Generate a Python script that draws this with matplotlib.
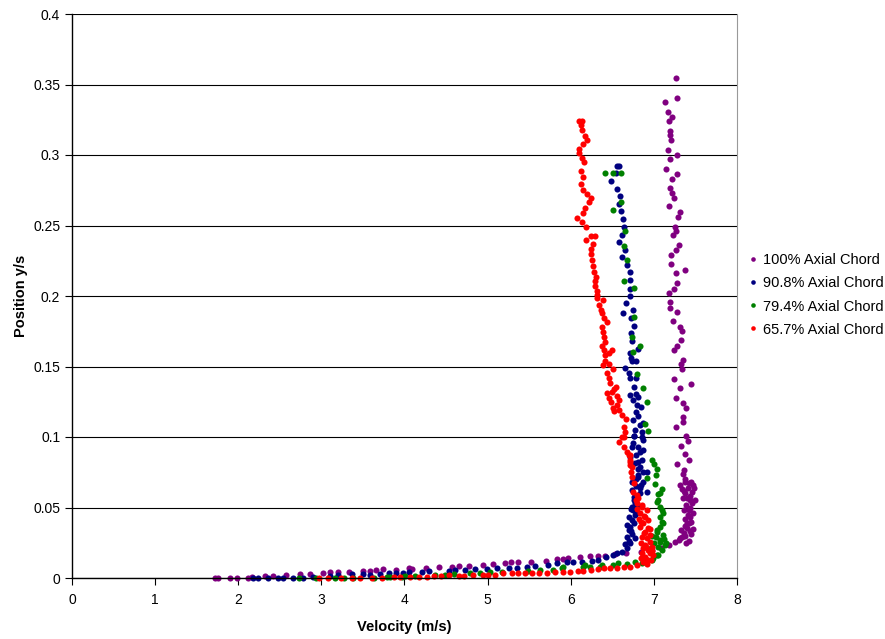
import matplotlib.pyplot as plt

plt.rcParams['font.family'] = ['Liberation Sans', 'DejaVu Sans']

series_labels = ["100% Axial Chord", "90.8% Axial Chord", "79.4% Axial Chord", "65.7% Axial Chord"]
series_colors = ['#800080', '#000080', '#008000', '#FF0000']

# 100% axial chord
p100_vel = [1.72, 1.76, 1.90, 1.99, 2.12, 2.17, 2.32, 2.42, 2.58, 2.74, 2.86, 3.02, 3.10, 3.20, 3.33, 3.50, 3.58, 3.66, 3.74, 3.90,
            4.06, 4.09, 4.26, 4.42, 4.57, 4.65, 4.78, 4.95, 5.07, 5.21, 5.28, 5.36, 5.52, 5.70, 5.83, 5.91, 5.97, 6.11, 6.23, 6.33,
            6.41, 6.53, 6.67, 6.84, 6.98, 7.08, 7.18, 7.26, 7.32,
            7.36, 7.40, 7.42, 7.44, 7.42, 7.46, 7.40, 7.48, 7.32, 7.42, 7.30, 7.34, 7.38, 7.45, 7.33, 7.47, 7.37, 7.45, 7.38, 7.41,
            7.47, 7.36, 7.44, 7.39, 7.49, 7.35, 7.44, 7.38, 7.46, 7.34, 7.41, 7.47, 7.37, 7.45, 7.42, 7.39, 7.43, 7.40, 7.43, 7.36,
            7.38, 7.353, 7.365, 7.284, 7.421, 7.38, 7.325, 7.405, 7.392, 7.272, 7.353, 7.353, 7.392, 7.353, 7.272, 7.313, 7.445,
            7.244, 7.341, 7.325, 7.353, 7.244, 7.284, 7.325, 7.341, 7.313, 7.232, 7.284, 7.192, 7.192, 7.18, 7.244, 7.284, 7.272,
            7.38, 7.205, 7.205, 7.272, 7.3, 7.232, 7.268, 7.26, 7.289, 7.316, 7.18, 7.244, 7.22, 7.192, 7.22, 7.284, 7.148, 7.192,
            7.284, 7.164, 7.205, 7.188, 7.192, 7.176, 7.22, 7.164, 7.136, 7.284, 7.265]
p100_pos = [0.0, 0.0, 0.0, 0.0, 0.0003, 0.001, 0.0017, 0.0017, 0.0024, 0.0026, 0.0026, 0.0033, 0.004, 0.004, 0.004, 0.0052, 0.0047, 0.0057, 0.0062, 0.0058,
            0.0069, 0.0064, 0.0073, 0.008, 0.008, 0.0087, 0.0087, 0.0094, 0.0101, 0.0106, 0.0111, 0.0111, 0.0116, 0.0118, 0.0133, 0.0135, 0.0142, 0.0147, 0.0156, 0.0158,
            0.0156, 0.0168, 0.0175, 0.0187, 0.0199, 0.021, 0.0234, 0.0257, 0.0281,
            0.0317, 0.0352, 0.0388, 0.0435, 0.0482, 0.053, 0.0565, 0.0636, 0.066, 0.0672, 0.027, 0.029, 0.030, 0.031, 0.034, 0.035, 0.037, 0.040, 0.042, 0.045,
            0.046, 0.048, 0.050, 0.052, 0.055, 0.057, 0.058, 0.060, 0.061, 0.063, 0.064, 0.066, 0.068, 0.068, 0.026, 0.025, 0.033, 0.039, 0.055, 0.062,
            0.0704, 0.0735, 0.0766, 0.0806, 0.0837, 0.0877, 0.0939, 0.0972, 0.1009, 0.1073, 0.1104, 0.1144, 0.1206, 0.1239, 0.1279, 0.1348, 0.1374,
            0.1411, 0.1482, 0.1516, 0.1546, 0.1617, 0.1648, 0.1688, 0.1752, 0.1782, 0.182, 0.1884, 0.1917, 0.1955, 0.2019, 0.205, 0.209, 0.2161,
            0.2184, 0.2225, 0.2293, 0.2324, 0.236, 0.243, 0.2459, 0.2492, 0.2563, 0.2596, 0.2636, 0.2697, 0.2728, 0.2768, 0.2832, 0.2863, 0.2901, 0.2972,
            0.2998, 0.3035, 0.3106, 0.314, 0.317, 0.3241, 0.3272, 0.3305, 0.3376, 0.3406, 0.3544]

# 90.8% axial chord
p908_vel = [2.18, 2.24, 2.36, 2.48, 2.54, 2.66, 2.78, 2.90, 3.10, 3.20, 3.37, 3.50, 3.58, 3.71, 3.81, 3.90, 3.98, 4.05, 4.21, 4.29,
            4.53, 4.61, 4.73, 4.85, 4.99, 5.11, 5.26, 5.35, 5.47, 5.57, 5.73, 5.83, 5.95, 6.03, 6.13, 6.25, 6.33, 6.43, 6.51, 6.555,
            6.615, 6.65,
            6.675, 6.715, 6.675, 6.775, 6.695, 6.715, 6.675, 6.735, 6.775, 6.75, 6.735, 6.775, 6.755, 6.80, 6.735, 6.835, 6.915, 6.875,
            6.815, 6.805, 6.875, 6.915, 6.835, 6.775, 6.815, 6.855, 6.715, 6.79, 6.835, 6.875, 6.735, 6.815, 6.75, 6.87, 6.765, 6.855,
            6.755, 6.855, 6.775, 6.835, 6.87, 6.75,
            6.70, 6.74, 6.72, 6.76, 6.70, 6.79, 6.72, 6.80, 6.76, 6.83, 6.78, 6.85, 6.79, 6.74, 6.81,
            6.815, 6.79, 6.84, 6.80, 6.75, 6.815, 6.79, 6.715, 6.76, 6.79, 6.715, 6.695, 6.655, 6.78, 6.735, 6.73, 6.715, 6.815, 6.735,
            6.72, 6.76, 6.73, 6.63, 6.75, 6.67, 6.71, 6.71, 6.715, 6.715, 6.68, 6.615, 6.65, 6.575, 6.615, 6.64, 6.63, 6.61, 6.58,
            6.59, 6.56, 6.48, 6.546, 6.555, 6.575]
p908_pos = [0.0, 0.0, 0.0, 0.0, 0.0, 0.0, 0.0002, 0.0005, 0.0017, 0.0021, 0.0026, 0.0026, 0.0021, 0.0026, 0.0033, 0.0033, 0.0038, 0.0045, 0.0045, 0.005,
            0.005, 0.0057, 0.0057, 0.0062, 0.0062, 0.0069, 0.0073, 0.0073, 0.008, 0.0087, 0.0092, 0.0104, 0.0111, 0.0116, 0.0116, 0.0123, 0.0128, 0.0147, 0.0163, 0.0175,
            0.0187, 0.024,
            0.021, 0.0246, 0.0293, 0.0281, 0.034, 0.0364, 0.0376, 0.0411, 0.0447, 0.0482, 0.0506, 0.053, 0.0577, 0.0577, 0.0624, 0.0636, 0.0612, 0.0683,
            0.0718, 0.073, 0.0754, 0.0754, 0.079, 0.0813, 0.0825, 0.0837, 0.086, 0.0872, 0.0896, 0.0908, 0.0931, 0.0931, 0.0955, 0.0979, 0.1009, 0.1002,
            0.101, 0.1038, 0.105, 0.1085, 0.1097, 0.1121,
            0.026, 0.031, 0.033, 0.039, 0.043, 0.046, 0.049, 0.051, 0.055, 0.060, 0.065, 0.066, 0.070, 0.068, 0.077,
            0.1149, 0.118, 0.1211, 0.1227, 0.1262, 0.1286, 0.1305, 0.1298, 0.1357, 0.1416, 0.1421, 0.1452, 0.1487, 0.1541, 0.1539, 0.156, 0.1594, 0.1624, 0.1679,
            0.1735, 0.1789, 0.1846, 0.1877, 0.19, 0.1948, 0.2, 0.2052, 0.2113, 0.2168, 0.2222, 0.2279, 0.2326, 0.2381, 0.2435, 0.2492, 0.2548, 0.2603, 0.2652,
            0.2711, 0.2759, 0.2816, 0.287, 0.2924, 0.2924]

# 79.4% axial chord
p794_vel = [2.735, 2.94, 3.16, 3.27, 3.38, 3.63, 3.79, 3.83, 3.97, 4.01, 4.13, 4.37, 4.49, 4.59, 4.79, 4.91, 5.03, 5.17, 5.49, 5.63,
            5.79, 5.89, 5.91, 6.15, 6.17, 6.23, 6.35, 6.37, 6.51, 6.57, 6.675, 6.775, 6.855, 6.915, 6.975, 6.995, 7.035, 7.055,
            7.1, 7.135, 7.075, 7.075, 7.115, 7.035, 7.035, 7.07, 7.115, 7.1, 7.075, 7.1, 7.115, 7.075, 7.04, 7.055, 7.055, 7.075,
            7.1, 7.01, 6.92, 7.03, 7.035, 7.0, 6.975,
            6.98, 7.0, 7.05, 6.97, 7.02, 7.12, 7.15,
            6.935, 6.895, 6.92, 6.87, 6.80, 6.75, 6.83, 6.74, 6.765, 6.765, 6.64, 6.68, 6.64, 6.655, 6.505, 6.60, 6.41, 6.505, 6.60]
p794_pos = [0.0, 0.0, 0.0, 0.0, 0.0, 0.0, 0.0005, 0.0005, 0.001, 0.0017, 0.0014, 0.0021, 0.0023, 0.0028, 0.0033, 0.0033, 0.0045, 0.0045, 0.0052, 0.0057,
            0.0057, 0.0069, 0.008, 0.0076, 0.0092, 0.008, 0.008, 0.0092, 0.0092, 0.0104, 0.0099, 0.0116, 0.0104, 0.0128, 0.0128, 0.014, 0.0163, 0.0163,
            0.0199, 0.0234, 0.0257, 0.027, 0.0305, 0.0328, 0.034, 0.0364, 0.0388, 0.0399, 0.0435, 0.0482, 0.0463, 0.0501, 0.0541, 0.0553, 0.0596, 0.06,
            0.063, 0.067, 0.0707, 0.073, 0.0771, 0.0806, 0.0837,
            0.030, 0.025, 0.022, 0.021, 0.029, 0.028, 0.025,
            0.1043, 0.109, 0.1246, 0.135, 0.1445, 0.16, 0.1648, 0.1711, 0.1853, 0.2059, 0.2106, 0.2255, 0.2357, 0.2461, 0.261, 0.2665, 0.287, 0.287, 0.287]

# 65.7% axial chord
p657_vel = [2.975, 3.085, 3.24, 3.365, 3.46, 3.61, 3.73, 3.87, 3.95, 4.07, 4.18, 4.275, 4.35, 4.44, 4.53, 4.66, 4.71, 4.83, 4.94, 5.0,
            5.09, 5.19, 5.29, 5.37, 5.45, 5.53, 5.62, 5.71, 5.81, 5.91, 5.99, 6.09, 6.15, 6.24, 6.33, 6.395, 6.475, 6.555, 6.635, 6.715,
            6.8,
            6.875, 6.935, 6.895, 6.995, 6.955, 6.935, 6.975, 6.895, 6.955, 6.915, 6.955, 6.895, 6.935, 6.875, 6.935, 6.895, 6.835, 6.915,
            6.855, 6.80, 6.815, 6.80, 6.75, 6.755,
            6.85, 6.92, 6.86, 6.90, 6.84, 6.86, 6.88, 6.83, 6.84, 6.88, 6.80, 6.78, 6.86, 6.82, 6.95, 6.97, 6.98, 6.87,
            6.735, 6.725, 6.735, 6.715, 6.715, 6.71, 6.715, 6.695, 6.675, 6.635, 6.585, 6.64, 6.615, 6.655, 6.635, 6.665, 6.615, 6.515,
            6.575, 6.505, 6.56, 6.48, 6.575, 6.465, 6.56, 6.44, 6.495, 6.515, 6.545, 6.475, 6.455, 6.435, 6.505, 6.385, 6.465, 6.415,
            6.415, 6.465, 6.395, 6.495, 6.375, 6.415, 6.395, 6.385, 6.375, 6.435, 6.40, 6.375, 6.36, 6.345, 6.385, 6.32, 6.32, 6.32,
            6.295, 6.295, 6.305, 6.28, 6.265, 6.25, 6.24, 6.24, 6.27, 6.185, 6.24, 6.295, 6.185, 6.135, 6.08, 6.145, 6.175, 6.215,
            6.24, 6.2, 6.145, 6.12, 6.145, 6.12, 6.16, 6.135, 6.095, 6.105, 6.145, 6.2, 6.175, 6.135, 6.12, 6.095, 6.135]
p657_pos = [0.0, 0.0, 0.0, 0.0, 0.0, 0.0, 0.0, 0.0005, 0.0005, 0.0005, 0.0005, 0.001, 0.0014, 0.0014, 0.0021, 0.0014, 0.0014, 0.0021, 0.0021, 0.0021,
            0.0021, 0.0033, 0.0033, 0.0033, 0.0033, 0.0038, 0.0038, 0.0038, 0.004, 0.0045, 0.0045, 0.0052, 0.0052, 0.0057, 0.0062, 0.0073, 0.0069, 0.0073, 0.0076, 0.008,
            0.0092,
            0.0116, 0.0128, 0.0151, 0.0163, 0.0175, 0.0199, 0.0222, 0.0234, 0.0257, 0.0281, 0.0305, 0.0328, 0.0352, 0.0388, 0.0411, 0.0435, 0.0459, 0.0482,
            0.0506, 0.053, 0.0565, 0.0589, 0.0612, 0.0672,
            0.014, 0.010, 0.018, 0.022, 0.025, 0.029, 0.032, 0.036, 0.040, 0.044, 0.049, 0.055, 0.052, 0.042, 0.035, 0.013, 0.019, 0.021,
            0.0714, 0.0754, 0.079, 0.0801, 0.0825, 0.0837, 0.0872, 0.0872, 0.0896, 0.0931, 0.0967, 0.1002, 0.1002, 0.1038, 0.1073, 0.1126, 0.1156, 0.1184,
            0.1191, 0.1203, 0.1227, 0.1246, 0.1262, 0.1279, 0.1291, 0.131, 0.1321, 0.1338, 0.1357, 0.1385, 0.1416, 0.1452, 0.1482, 0.1511, 0.1518, 0.1541,
            0.1582, 0.1594, 0.1617, 0.1617, 0.1648, 0.1676, 0.1711, 0.1747, 0.1782, 0.1813, 0.1842, 0.1877, 0.19, 0.1936, 0.1972, 0.1984, 0.2007, 0.2035,
            0.2073, 0.2106, 0.2137, 0.2172, 0.2215, 0.2255, 0.2296, 0.2333, 0.2367, 0.2397, 0.2428, 0.2428, 0.2492, 0.2525, 0.2555, 0.2587, 0.2626, 0.2665,
            0.2697, 0.2721, 0.2752, 0.2792, 0.2846, 0.2887, 0.2948, 0.2977, 0.3012, 0.304, 0.3076, 0.3106, 0.3137, 0.3177, 0.3213, 0.3243, 0.3243]

x_ticks = [0, 1, 2, 3, 4, 5, 6, 7, 8]
y_ticks = [0, 0.05, 0.1, 0.15, 0.2, 0.25, 0.3, 0.35, 0.4]
y_tick_labels = ["0", "0.05", "0.1", "0.15", "0.2", "0.25", "0.3", "0.35", "0.4"]

all_vel = [p100_vel, p908_vel, p794_vel, p657_vel]
all_pos = [p100_pos, p908_pos, p794_pos, p657_pos]

fig = plt.figure(figsize=(8.85, 6.39), dpi=100)
ax = fig.add_axes([72 / 885, 1 - 578 / 639, 665 / 885, 564 / 639])

for vel, pos, lab, col in zip(all_vel, all_pos, series_labels, series_colors):
    ax.plot(vel, pos, linestyle='none', marker='o', ms=4.4, mew=0, color=col, label=lab, clip_on=False)

ax.set_xlim(0, 8)
ax.set_ylim(0, 0.4)
ax.set_xticks(x_ticks)
ax.set_yticks(y_ticks)
ax.set_yticklabels(y_tick_labels)
ax.tick_params(direction='out', length=5, width=0.8, labelsize=10, color='black')
ax.tick_params(axis='x', pad=6)
ax.yaxis.grid(True, color='black', linewidth=0.8)
ax.set_axisbelow(True)

ax.spines['top'].set_visible(False)
ax.spines['right'].set_color('#999999')
ax.spines['left'].set_linewidth(1.0)
ax.spines['bottom'].set_linewidth(1.0)

ax.set_xlabel("Velocity (m/s)", fontsize=10.5, fontweight='bold', labelpad=9)
ax.set_ylabel("Position y/s", fontsize=10.5, fontweight='bold', labelpad=4)

fig.legend(loc='center left', bbox_to_anchor=(735 / 885, 1 - 295 / 639), frameon=False,
           fontsize=10.5, handlelength=0.6, handletextpad=0.4, labelspacing=0.62, markerscale=0.75)

plt.savefig("out.png", dpi=100)
